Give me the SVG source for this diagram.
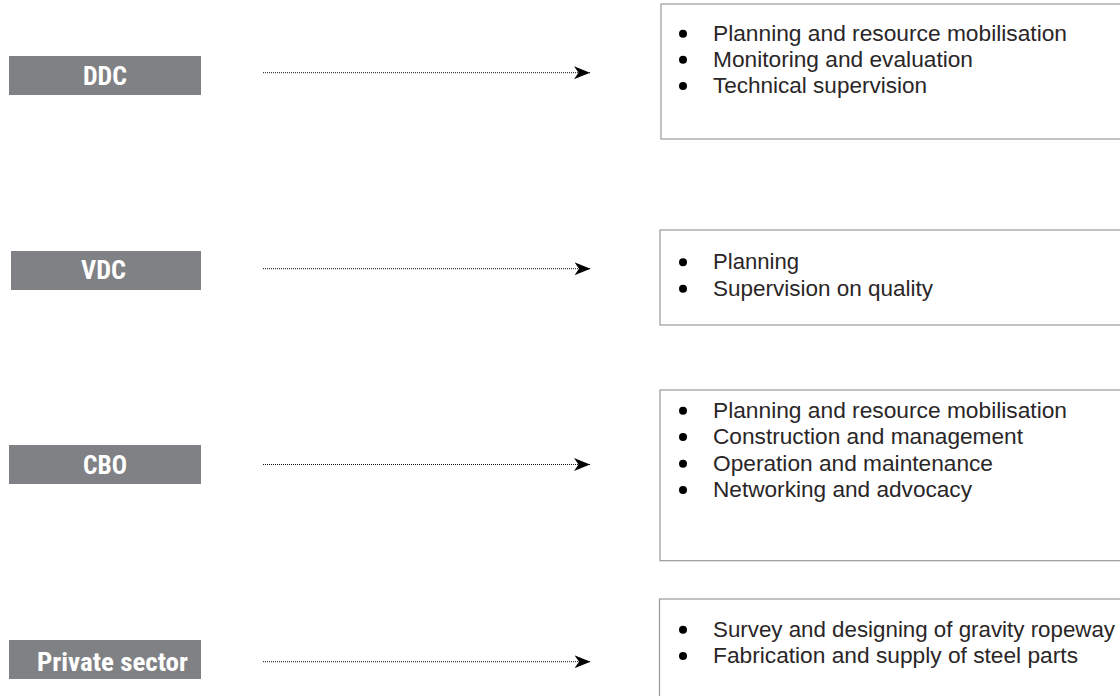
<svg xmlns="http://www.w3.org/2000/svg" width="1120" height="696" viewBox="0 0 1120 696">
  <style>
    .lbl { fill: #808184; }
    .lt { fill: #ffffff; font-family: "Liberation Sans Narrow", "Roboto Condensed", "Liberation Sans", sans-serif; font-weight: bold; font-size: 25px; }
    .box { fill: #ffffff; stroke: #9a9a9a; stroke-width: 1.2; }
    .bt { fill: #2a2627; font-family: "Liberation Sans", Arial, sans-serif; font-size: 22px; }
    .dot { fill: #000000; }
    .conn { stroke: #111111; stroke-width: 1; stroke-dasharray: 1 1; fill: none; marker-end: url(#arrow); }
  </style>
  <defs>
    <marker id="arrow" markerUnits="userSpaceOnUse" markerWidth="17" markerHeight="13" refX="16" refY="6.5" orient="auto" viewBox="0 0 17 13">
      <path d="M0,0 L16,6.5 L0,13 L4.5,6.5 z" fill="#000000"/>
    </marker>
  </defs>
  <rect width="1120" height="696" fill="#ffffff"/>

  <g id="ddc">
    <rect class="lbl" x="9" y="56" width="192" height="39"/>
    <text class="lt" x="83" y="85" textLength="44" lengthAdjust="spacingAndGlyphs">DDC</text>
  </g>
  <g id="vdc">
    <rect class="lbl" x="11" y="251" width="190" height="39"/>
    <text class="lt" x="81" y="279" textLength="45" lengthAdjust="spacingAndGlyphs">VDC</text>
  </g>
  <g id="cbo">
    <rect class="lbl" x="9" y="445" width="192" height="39"/>
    <text class="lt" x="83" y="474" textLength="44" lengthAdjust="spacingAndGlyphs">CBO</text>
  </g>
  <g id="private">
    <rect class="lbl" x="9" y="640" width="192" height="39"/>
    <text class="lt" x="37" y="671" textLength="151" lengthAdjust="spacingAndGlyphs">Private sector</text>
  </g>

  <g id="ddc-roles">
    <rect class="box" x="661" y="4" width="480" height="135"/>
    <circle class="dot" cx="683" cy="33.7" r="4"/>
    <circle class="dot" cx="683" cy="59.7" r="4"/>
    <circle class="dot" cx="683" cy="86" r="4"/>
    <text class="bt" x="713" y="40.7" textLength="354" lengthAdjust="spacingAndGlyphs">Planning and resource mobilisation</text>
    <text class="bt" x="713" y="66.7" textLength="260" lengthAdjust="spacingAndGlyphs">Monitoring and evaluation</text>
    <text class="bt" x="713" y="93" textLength="214" lengthAdjust="spacingAndGlyphs">Technical supervision</text>
  </g>
  <g id="vdc-roles">
    <rect class="box" x="660" y="230" width="480" height="95"/>
    <circle class="dot" cx="683" cy="262.3" r="4"/>
    <circle class="dot" cx="683" cy="288.7" r="4"/>
    <text class="bt" x="713" y="269.3" textLength="86" lengthAdjust="spacingAndGlyphs">Planning</text>
    <text class="bt" x="713" y="295.7" textLength="220" lengthAdjust="spacingAndGlyphs">Supervision on quality</text>
  </g>
  <g id="cbo-roles">
    <rect class="box" x="660" y="390" width="480" height="170.7"/>
    <circle class="dot" cx="683" cy="410.7" r="4"/>
    <circle class="dot" cx="683" cy="437" r="4"/>
    <circle class="dot" cx="683" cy="463.7" r="4"/>
    <circle class="dot" cx="683" cy="490" r="4"/>
    <text class="bt" x="713" y="417.7" textLength="354" lengthAdjust="spacingAndGlyphs">Planning and resource mobilisation</text>
    <text class="bt" x="713" y="444" textLength="310" lengthAdjust="spacingAndGlyphs">Construction and management</text>
    <text class="bt" x="713" y="470.7" textLength="280" lengthAdjust="spacingAndGlyphs">Operation and maintenance</text>
    <text class="bt" x="713" y="497" textLength="259" lengthAdjust="spacingAndGlyphs">Networking and advocacy</text>
  </g>
  <g id="private-roles">
    <rect class="box" x="659.5" y="599" width="480" height="120"/>
    <circle class="dot" cx="683" cy="629.7" r="4"/>
    <circle class="dot" cx="683" cy="656" r="4"/>
    <text class="bt" x="713" y="636.7" textLength="402" lengthAdjust="spacingAndGlyphs">Survey and designing of gravity ropeway</text>
    <text class="bt" x="713" y="663" textLength="365" lengthAdjust="spacingAndGlyphs">Fabrication and supply of steel parts</text>
  </g>

  <g id="connectors">
    <line class="conn" x1="263" y1="72.7" x2="590" y2="72.7"/>
    <line class="conn" x1="263" y1="268.7" x2="590.5" y2="268.7"/>
    <line class="conn" x1="263" y1="464.5" x2="590" y2="464.5"/>
    <line class="conn" x1="263" y1="661.7" x2="590.5" y2="661.7"/>
  </g>
</svg>
